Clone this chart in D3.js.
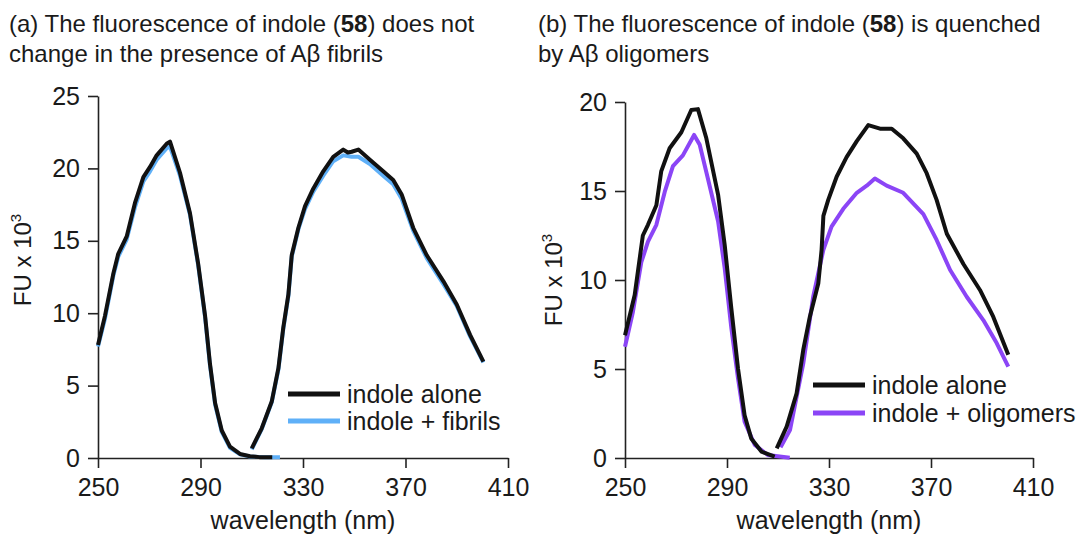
<!DOCTYPE html>
<html>
<head>
<meta charset="utf-8">
<script src="https://cdn.jsdelivr.net/npm/d3@7"></script>
<style>
  html, body { margin: 0; padding: 0; background: #fff; }
  svg { display: block; font-family: "Liberation Sans", Arial, sans-serif; }
</style>
</head>
<body>
<svg id="chart" width="1079" height="535"></svg>
<script>
// Wavelength axis (nm) shared by both panels
const xTicks = [250, 290, 330, 370, 410];
const yTicksA = [0, 5, 10, 15, 20, 25];
const yTicksB = [0, 5, 10, 15, 20];

// Panel (a): indole alone vs indole + fibrils, [wavelength nm, FU x 10^3]
const aAloneExc = [[250,7.8],[252.7,9.8],[256,12.75],[257.9,14.1],[261.2,15.3],[264.4,17.6],[267.7,19.4],[270.3,20.1],[272.9,20.9],[276.8,21.7],[278.1,21.85],[282,19.7],[285.9,16.9],[289.1,13.4],[291.8,9.8],[293.7,6.5],[295.7,3.8],[298.3,1.9],[301.5,0.78],[305.4,0.28],[309.3,0.12],[313,0.06],[318,0.05]];
const aFibrilsExc = [[250,7.7],[252.7,9.6],[256,12.6],[257.9,13.9],[261.2,15.1],[264.4,17.3],[267.7,19.1],[270.3,19.8],[272.9,20.6],[276.8,21.4],[278.1,21.5],[282,19.5],[285.9,16.8],[289.1,13.3],[291.8,9.7],[293.7,6.4],[295.7,3.7],[298.3,1.8],[301.5,0.7],[305.4,0.25],[309.3,0.1],[315,0.05],[321,0.05]];
const aAloneEm = [[310,0.67],[313.9,2.05],[317.8,3.9],[320.4,6.2],[322.3,9.0],[324.3,11.3],[325.6,14.0],[328.2,15.9],[330.8,17.4],[334,18.6],[337.9,19.8],[341.8,20.8],[345.7,21.3],[347.5,21.1],[349,21.15],[351.6,21.3],[356.1,20.6],[361.3,19.8],[365.2,19.2],[368.5,18.2],[373,15.9],[378.3,14.0],[384.8,12.2],[390,10.6],[395.2,8.5],[400.4,6.65]];
const aFibrilsEm = [[310,0.6],[313.9,2.0],[317.8,3.85],[320.4,6.1],[322.3,8.9],[324.3,11.2],[325.6,13.9],[328.2,15.8],[330.8,17.2],[334,18.4],[337.9,19.5],[341.8,20.5],[345.7,20.9],[349,20.8],[351.6,20.8],[356.1,20.3],[361.3,19.5],[365.2,18.9],[368.5,17.9],[373,15.7],[378.3,13.8],[384.8,12.0],[390,10.5],[395.2,8.4],[400.4,6.6]];

// Panel (b): indole alone vs indole + oligomers
const bAloneExc = [[250,6.9],[253.8,9.16],[257,12.5],[259,13.1],[262.3,14.2],[264.2,16.1],[267.5,17.4],[272.1,18.3],[276,19.55],[278.6,19.6],[281.9,17.96],[286.5,14.8],[289.1,11.97],[291.7,8.4],[294.3,5.04],[296.9,2.4],[299.5,1.1],[303.5,0.36],[308.7,0.08]];
const bOligoExc = [[250,6.25],[253.1,8.2],[256.4,11.0],[259,12.15],[262.3,13.1],[265.6,14.96],[268.8,16.4],[272.7,17.0],[277.1,18.15],[279.3,17.6],[282.5,15.7],[286.5,13.3],[289.1,10.66],[291.7,7.3],[294.3,4.5],[296.9,2.04],[300.9,0.73],[306,0.17],[314.6,0.02]];
const bAloneEm = [[309.5,0.54],[313.4,1.76],[317.3,3.63],[319.9,6.07],[322.5,7.94],[325.8,9.8],[327.1,11.7],[327.8,13.6],[329.7,14.5],[333,15.8],[336.9,16.9],[340.9,17.8],[345.4,18.7],[350,18.5],[354.6,18.5],[359.1,17.96],[364.4,17.1],[368.3,16.0],[372.2,14.5],[376.2,12.6],[382.7,10.9],[389.2,9.44],[394.4,7.94],[400.3,5.8]];
const bOligoEm = [[311,0.6],[314.7,1.57],[319.9,5.3],[323.8,9.06],[327.8,11.7],[331,13.0],[335.6,14.0],[340.9,14.9],[344.8,15.3],[348,15.7],[352.6,15.3],[359.1,14.9],[367,13.7],[372.2,12.25],[377.5,10.56],[384,9.06],[390.5,7.75],[395.8,6.44],[400.3,5.13]];

const svg = d3.select("#chart");
const TITLE_FONT = 24;
const FONT = 25;

function drawPanel(cfg) {
  const x = d3.scaleLinear().domain([250, 410]).range([cfg.left, cfg.right]);
  const y = d3.scaleLinear().domain([0, cfg.yMax]).range([cfg.bottom, cfg.top]);
  const g = svg.append("g");

  // title, two lines
  const title = g.append("text").attr("x", cfg.titleX).attr("y", 32)
    .attr("font-size", TITLE_FONT).attr("fill", "#1a1a1a");
  cfg.title1.forEach(part => {
    title.append("tspan").attr("font-weight", part.bold ? "bold" : "normal").text(part.t);
  });
  g.append("text").attr("x", cfg.titleX).attr("y", 62)
    .attr("font-size", TITLE_FONT).attr("fill", "#1a1a1a").text(cfg.title2);

  // axes
  const xAxis = d3.axisBottom(x).tickValues(xTicks).tickSize(10).tickSizeOuter(0).tickPadding(5);
  const yAxis = d3.axisLeft(y).tickValues(cfg.yTicks).tickSize(10).tickSizeOuter(0).tickPadding(8);
  const gx = g.append("g").attr("transform", `translate(0,${cfg.bottom})`).call(xAxis);
  const gy = g.append("g").attr("transform", `translate(${cfg.left},0)`).call(yAxis);
  [gx, gy].forEach(ax => {
    ax.selectAll("path, line").attr("stroke", "#222").attr("stroke-width", 1.6);
    ax.selectAll("text").attr("font-size", FONT).attr("fill", "#1a1a1a")
      .attr("font-family", "Liberation Sans, Arial, sans-serif");
  });
  gx.selectAll("text").attr("dy", "0.92em");

  // axis titles
  g.append("text").attr("x", (cfg.left + cfg.right) / 2).attr("y", 529)
    .attr("text-anchor", "middle").attr("font-size", FONT).attr("fill", "#1a1a1a")
    .text("wavelength (nm)");
  const yt = g.append("text")
    .attr("transform", `translate(${cfg.yTitleX},${cfg.yTitleY}) rotate(-90)`)
    .attr("text-anchor", "middle").attr("font-size", 24).attr("fill", "#1a1a1a");
  yt.append("tspan").text("FU x 10");
  yt.append("tspan").attr("font-size", 15).attr("dy", -10).text("3");

  // spectra
  const line = d3.line().x(d => x(d[0])).y(d => y(d[1]));
  cfg.series.forEach(s => {
    s.segments.forEach(seg => {
      g.append("path").datum(seg).attr("d", line)
        .attr("fill", "none").attr("stroke", s.color).attr("stroke-width", 4)
        .attr("stroke-linejoin", "round").attr("stroke-linecap", "butt");
    });
  });

  // legend
  cfg.legend.forEach((item, i) => {
    const ly = cfg.legendY + i * cfg.legendStep;
    g.append("line").attr("x1", cfg.legendX).attr("x2", cfg.legendX + 52)
      .attr("y1", ly).attr("y2", ly).attr("stroke", item.color).attr("stroke-width", 5);
    g.append("text").attr("x", cfg.legendX + 59).attr("y", ly + 9)
      .attr("font-size", FONT).attr("fill", "#1a1a1a").text(item.label);
  });
}

const BLACK = "#111111", BLUE = "#5fb0f8", PURPLE = "#8b45f6";

drawPanel({
  left: 98, right: 508, top: 96, bottom: 458, yMax: 25, yTicks: yTicksA,
  titleX: 9,
  title1: [{t: "(a) The fluorescence of indole ("}, {t: "58", bold: true}, {t: ") does not"}],
  title2: "change in the presence of A\u03B2 fibrils",
  yTitleX: 31, yTitleY: 260,
  series: [
    {color: BLUE, segments: [aFibrilsExc, aFibrilsEm]},
    {color: BLACK, segments: [aAloneExc, aAloneEm]}
  ],
  legend: [{label: "indole alone", color: BLACK}, {label: "indole + fibrils", color: BLUE}],
  legendX: 288, legendY: 394, legendStep: 27
});

drawPanel({
  left: 625, right: 1033, top: 102, bottom: 458, yMax: 20, yTicks: yTicksB,
  titleX: 538,
  title1: [{t: "(b) The fluorescence of indole ("}, {t: "58", bold: true}, {t: ") is quenched"}],
  title2: "by A\u03B2 oligomers",
  yTitleX: 562, yTitleY: 280,
  series: [
    {color: PURPLE, segments: [bOligoExc, bOligoEm]},
    {color: BLACK, segments: [bAloneExc, bAloneEm]}
  ],
  legend: [{label: "indole alone", color: BLACK}, {label: "indole + oligomers", color: PURPLE}],
  legendX: 813, legendY: 385, legendStep: 28
});
</script>
</body>
</html>
